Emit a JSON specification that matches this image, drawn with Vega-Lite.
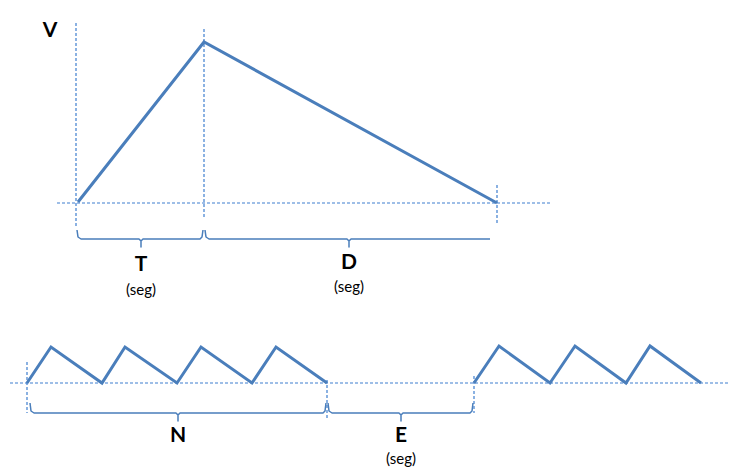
{
  "$schema": "https://vega.github.io/schema/vega-lite/v6.json",
  "width": 752,
  "height": 468,
  "padding": 0,
  "autosize": {"type": "fit", "contains": "padding"},
  "background": "white",
  "config": {"view": {"stroke": null}},
  "datasets": {
    "wave": [
      {"g": "top", "o": 1, "x": 78, "y": 202},
      {"g": "top", "o": 2, "x": 204, "y": 42},
      {"g": "top", "o": 3, "x": 497, "y": 203},
      {"g": "b1", "o": 1, "x": 27, "y": 383},
      {"g": "b1", "o": 2, "x": 51, "y": 347},
      {"g": "b1", "o": 3, "x": 102, "y": 383},
      {"g": "b1", "o": 4, "x": 125, "y": 347},
      {"g": "b1", "o": 5, "x": 177, "y": 383},
      {"g": "b1", "o": 6, "x": 201, "y": 347},
      {"g": "b1", "o": 7, "x": 252, "y": 383},
      {"g": "b1", "o": 8, "x": 276, "y": 347},
      {"g": "b1", "o": 9, "x": 327, "y": 383},
      {"g": "b2", "o": 1, "x": 474, "y": 383},
      {"g": "b2", "o": 2, "x": 499, "y": 346},
      {"g": "b2", "o": 3, "x": 550, "y": 383},
      {"g": "b2", "o": 4, "x": 575, "y": 346},
      {"g": "b2", "o": 5, "x": 626, "y": 383},
      {"g": "b2", "o": 6, "x": 650, "y": 346},
      {"g": "b2", "o": 7, "x": 701, "y": 383}
    ],
    "brace": [
      {"g": "T", "o": 1, "x": 77, "y": 230},
      {"g": "T", "o": 2, "x": 78, "y": 237},
      {"g": "T", "o": 3, "x": 81, "y": 239},
      {"g": "T", "o": 4, "x": 139, "y": 239},
      {"g": "T", "o": 5, "x": 141, "y": 241},
      {"g": "T", "o": 6, "x": 141, "y": 247},
      {"g": "T", "o": 7, "x": 141, "y": 241},
      {"g": "T", "o": 8, "x": 143, "y": 239},
      {"g": "T", "o": 9, "x": 200, "y": 239},
      {"g": "T", "o": 10, "x": 202, "y": 237},
      {"g": "T", "o": 11, "x": 203, "y": 230},
      {"g": "D", "o": 1, "x": 205, "y": 230},
      {"g": "D", "o": 2, "x": 206, "y": 237},
      {"g": "D", "o": 3, "x": 209, "y": 239},
      {"g": "D", "o": 4, "x": 347, "y": 239},
      {"g": "D", "o": 5, "x": 349, "y": 241},
      {"g": "D", "o": 6, "x": 349, "y": 247},
      {"g": "D", "o": 7, "x": 349, "y": 241},
      {"g": "D", "o": 8, "x": 351, "y": 239},
      {"g": "D", "o": 9, "x": 490, "y": 239},
      {"g": "N", "o": 1, "x": 30, "y": 403},
      {"g": "N", "o": 2, "x": 31, "y": 411},
      {"g": "N", "o": 3, "x": 34, "y": 413},
      {"g": "N", "o": 4, "x": 176, "y": 413},
      {"g": "N", "o": 5, "x": 178, "y": 415},
      {"g": "N", "o": 6, "x": 178, "y": 421},
      {"g": "N", "o": 7, "x": 178, "y": 415},
      {"g": "N", "o": 8, "x": 180, "y": 413},
      {"g": "N", "o": 9, "x": 323, "y": 413},
      {"g": "N", "o": 10, "x": 325, "y": 411},
      {"g": "N", "o": 11, "x": 326, "y": 403},
      {"g": "E", "o": 1, "x": 328, "y": 403},
      {"g": "E", "o": 2, "x": 329, "y": 411},
      {"g": "E", "o": 3, "x": 332, "y": 413},
      {"g": "E", "o": 4, "x": 399, "y": 413},
      {"g": "E", "o": 5, "x": 401, "y": 415},
      {"g": "E", "o": 6, "x": 401, "y": 421},
      {"g": "E", "o": 7, "x": 401, "y": 415},
      {"g": "E", "o": 8, "x": 403, "y": 413},
      {"g": "E", "o": 9, "x": 470, "y": 413},
      {"g": "E", "o": 10, "x": 472, "y": 411},
      {"g": "E", "o": 11, "x": 473, "y": 403}
    ],
    "rules": [
      {"x": 76, "y": 23, "x2": 76, "y2": 226},
      {"x": 57, "y": 203, "x2": 552, "y2": 203},
      {"x": 204, "y": 29, "x2": 204, "y2": 218},
      {"x": 497, "y": 185, "x2": 497, "y2": 223},
      {"x": 10, "y": 383, "x2": 730, "y2": 383},
      {"x": 27, "y": 362, "x2": 27, "y2": 413},
      {"x": 327, "y": 380, "x2": 327, "y2": 419},
      {"x": 474, "y": 376, "x2": 474, "y2": 413}
    ],
    "labels": [
      {"x": 50, "y": 31, "t": "V", "s": "big"},
      {"x": 141, "y": 265, "t": "T", "s": "big"},
      {"x": 141, "y": 290, "t": "(seg)", "s": "small"},
      {"x": 349, "y": 263, "t": "D", "s": "big"},
      {"x": 349, "y": 287, "t": "(seg)", "s": "small"},
      {"x": 178, "y": 436, "t": "N", "s": "big"},
      {"x": 401, "y": 436, "t": "E", "s": "big"},
      {"x": 401, "y": 459, "t": "(seg)", "s": "small"}
    ]
  },
  "encoding": {
    "x": {"field": "x", "type": "quantitative", "scale": {"domain": [0, 752], "nice": false, "zero": false}, "axis": null},
    "y": {"field": "y", "type": "quantitative", "scale": {"domain": [0, 468], "nice": false, "zero": false, "reverse": true}, "axis": null}
  },
  "layer": [
    {
      "data": {"name": "rules"},
      "mark": {"type": "rule", "color": "#3f7fcf", "strokeWidth": 1.2, "strokeDash": [3, 2]},
      "encoding": {
        "x2": {"field": "x2"},
        "y2": {"field": "y2"}
      }
    },
    {
      "data": {"name": "brace"},
      "mark": {"type": "line", "color": "#4a7ebb", "strokeWidth": 1.5, "strokeJoin": "round"},
      "encoding": {
        "detail": {"field": "g"},
        "order": {"field": "o", "type": "quantitative"}
      }
    },
    {
      "data": {"name": "wave"},
      "mark": {"type": "line", "color": "#4a7ebb", "strokeWidth": 3, "strokeJoin": "miter"},
      "encoding": {
        "detail": {"field": "g"},
        "order": {"field": "o", "type": "quantitative"}
      }
    },
    {
      "data": {"name": "labels"},
      "transform": [{"filter": "datum.s === 'big'"}],
      "mark": {"type": "text", "font": "Lato", "fontWeight": "bold", "fontSize": 21, "color": "black", "align": "center", "baseline": "middle"},
      "encoding": {"text": {"field": "t"}}
    },
    {
      "data": {"name": "labels"},
      "transform": [{"filter": "datum.s === 'small'"}],
      "mark": {"type": "text", "font": "Lato", "fontSize": 15, "color": "black", "align": "center", "baseline": "middle"},
      "encoding": {"text": {"field": "t"}}
    }
  ]
}
